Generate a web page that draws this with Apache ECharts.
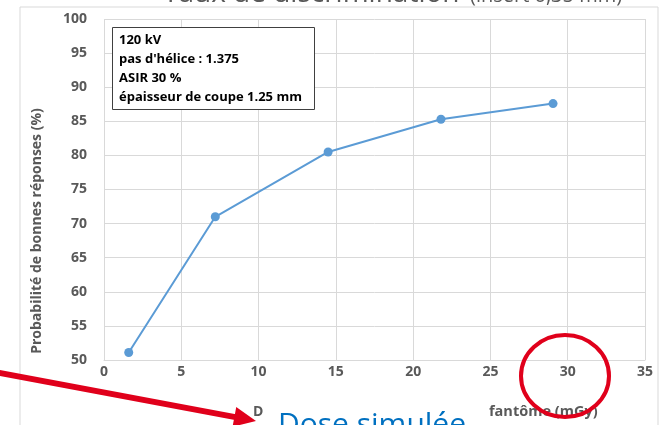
<!DOCTYPE html>
<html>
<head>
<meta charset="utf-8">
<script src="https://cdn.jsdelivr.net/npm/echarts@6/dist/echarts.min.js"></script>
<style>
  html, body { margin: 0; padding: 0; background: #fff; }
  #chart { width: 662px; height: 425px; }
</style>
</head>
<body>
<div id="chart"></div>
<script>
  // dose simulée (mGy) / probabilité de bonnes réponses (%)
  const doseValues = [1.6, 7.2, 14.5, 21.8, 29.05];
  const probaValues = [51.1, 71.0, 80.5, 85.3, 87.6];
  const infoLines = ['120 kV', "pas d'hélice : 1.375", 'ASIR 30 %', 'épaisseur de coupe 1.25 mm'];

  const gray = '#595959';
  const red = '#E0001B';
  const font = '"Open Sans", Lato, sans-serif';

  const myChart = echarts.init(document.getElementById('chart'));

  // flèche rouge (tige + pointe)
  const tail = [-5, 372], tip = [256, 421];
  const len = Math.hypot(tip[0] - tail[0], tip[1] - tail[1]);
  const d = [(tip[0] - tail[0]) / len, (tip[1] - tail[1]) / len];
  const base = [tip[0] - 22 * d[0], tip[1] - 22 * d[1]];
  const p = [-d[1], d[0]];

  const option = {
    animation: false,
    grid: { left: 104, right: 17, top: 19, bottom: 65 },
    xAxis: {
      type: 'value',
      min: 0, max: 35, interval: 5,
      axisLine: { show: true, lineStyle: { color: '#d9d9d9' } },
      axisTick: { show: false },
      axisLabel: { color: gray, fontWeight: 'bold', fontSize: 14, fontFamily: font, margin: 5 },
      splitLine: { show: true, lineStyle: { color: '#d9d9d9' } }
    },
    yAxis: {
      type: 'value',
      min: 50, max: 100, interval: 5,
      axisLine: { show: false },
      axisTick: { show: false },
      axisLabel: { color: gray, fontWeight: 'bold', fontSize: 14, fontFamily: font, margin: 17 },
      splitLine: { show: true, lineStyle: { color: '#d9d9d9' } }
    },
    series: [
      {
        type: 'line',
        data: doseValues.map((x, i) => [x, probaValues[i]]),
        symbol: 'circle',
        symbolSize: 9,
        lineStyle: { color: '#5B9BD5', width: 2 },
        itemStyle: { color: '#5B9BD5' }
      }
    ],
    graphic: [
      // cadre du graphique
      { type: 'rect', z: -10, shape: { x: 20, y: 7, width: 638, height: 450 },
        style: { fill: 'none', stroke: '#d9d9d9', lineWidth: 1 } },
      // titre (coupé en haut)
      { type: 'text', x: 163, y: -5.5, z: 100,
        style: { text: 'Taux de discrimination', font: '28px ' + font, fill: gray, verticalAlign: 'middle' } },
      { type: 'text', x: 470, y: -4, z: 100,
        style: { text: '(insert 0,35 mm)', font: '20px ' + font, fill: gray, verticalAlign: 'middle' } },
      // encadré d'info
      { type: 'rect', z: 100, shape: { x: 112.5, y: 27.5, width: 202, height: 82 },
        style: { fill: '#fff', stroke: '#404040', lineWidth: 1 } },
      { type: 'text', x: 119, y: 31, z: 101,
        style: { text: infoLines.join('\n'), font: 'bold 13px ' + font, fill: '#000', lineHeight: 19 } },
      // titre axe Y
      { type: 'text', x: 37, y: 231, rotation: Math.PI / 2, z: 100,
        style: { text: 'Probabilité de bonnes réponses (%)', font: 'bold 14px ' + font, fill: gray,
                 align: 'center', verticalAlign: 'middle' } },
      // titre axe X (partiellement masqué)
      { type: 'text', x: 253, y: 412, z: 100,
        style: { text: 'D', font: 'bold 14px ' + font, fill: gray, verticalAlign: 'middle' } },
      { type: 'text', x: 489, y: 412, z: 100,
        style: { text: 'fantôme (mGy)', font: 'bold 14.5px ' + font, fill: gray, verticalAlign: 'middle' } },
      { type: 'rect', z: 102, shape: { x: 264, y: 405, width: 222, height: 30 }, style: { fill: '#fff' } },
      { type: 'text', x: 278, y: 410, z: 103,
        style: { text: 'Dose simulée', font: '30px "Open Sans", sans-serif', fill: '#0070C0' } },
      // cercle rouge
      { type: 'ellipse', z: 110, shape: { cx: 565, cy: 376, rx: 44, ry: 41 },
        style: { fill: 'none', stroke: red, lineWidth: 4 } },
      // flèche rouge
      { type: 'line', z: 110, shape: { x1: tail[0], y1: tail[1], x2: base[0] + d[0], y2: base[1] + d[1] },
        style: { stroke: red, lineWidth: 6 } },
      { type: 'polygon', z: 111,
        shape: { points: [tip, [base[0] + 10 * p[0], base[1] + 10 * p[1]], [base[0] - 10 * p[0], base[1] - 10 * p[1]]] },
        style: { fill: red } }
    ]
  };

  myChart.setOption(option);
</script>
</body>
</html>
